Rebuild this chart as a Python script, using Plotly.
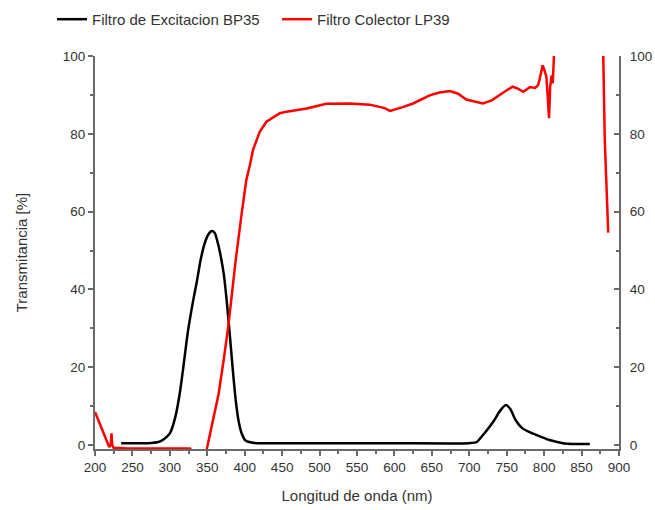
import plotly.graph_objects as go

# Excitation filter BP35 (black)
bp_nm = [235, 250, 270, 285, 292, 300, 307, 313, 318, 324, 331, 336, 341, 346, 351, 356, 360, 364, 368, 372, 376, 380, 384, 388, 392, 396, 401, 411, 430,
         500, 600, 700, 710, 720, 732, 741, 749, 755, 762, 771, 780, 795, 807, 825, 840, 861]
bp_val = [0.5, 0.5, 0.5, 0.8, 1.5, 3.0, 7.0, 13.0, 20.0, 29.0, 37.0, 42.0, 47.5, 51.5, 54.0, 55.0, 54.5, 52.0, 48.5, 44.0, 37.0, 28.5, 19.5, 11.5, 6.0, 3.0, 1.2, 0.6, 0.5,
          0.5, 0.5, 0.5, 0.8, 3.0, 6.0, 8.8, 10.3, 9.2, 6.4, 4.3, 3.4, 2.2, 1.3, 0.5, 0.3, 0.3]

# Collector filter LP39 (red)
lp_nm = [200, 205, 210, 215, 219, 221, 222, 223, 225, 240, 270, 300, 327, 332, 345, 349, 353, 358, 365, 372, 378, 383, 388, 396, 402, 407, 411, 420, 429, 447,
         456, 483, 509, 540, 567, 587, 594, 610, 625, 647, 660, 674, 685, 696, 718, 730, 740, 750, 758, 765, 772, 781, 788, 792, 795, 798, 801, 803, 805, 806.5, 808, 810, 811.5, 813,
         820, 860, 879, 881, 883, 885.6]
lp_val = [8.5, 6.0, 3.5, 1.5, -0.5, 0.0, 3.0, 0.0, -0.7, -0.8, -0.8, -0.8, -0.9, -3.0, -3.0, -1.3, 2.5, 7.0, 13.0, 22.0, 30.5, 39.0, 47.6, 59.6, 68.0, 72.0, 75.8, 80.5, 83.1, 85.3,
          85.7, 86.5, 87.7, 87.8, 87.5, 86.6, 85.9, 86.8, 87.8, 89.9, 90.6, 91.0, 90.3, 88.8, 87.8, 88.6, 90.0, 91.2, 92.1, 91.6, 90.8, 92.0, 91.8, 92.5, 95.0, 97.6, 96.0, 94.6, 89.0, 84.0, 92.0, 95.0, 93.0, 100.0,
          130.0, 130.0, 99.8, 78.4, 66.0, 54.6]

x_ticks = list(range(200, 901, 50))
y_ticks = [0, 20, 40, 60, 80, 100]

FONT = "Liberation Sans, Arial, sans-serif"
AX = "#6a6a6a"
TXT = "#333333"

fig = go.Figure()
fig.add_trace(go.Scatter(x=bp_nm, y=bp_val, mode="lines", name="Filtro de Excitacion BP35",
                         line=dict(color="black", width=2.5, shape="spline", smoothing=0.6)))
fig.add_trace(go.Scatter(x=lp_nm, y=lp_val, mode="lines", name="Filtro Colector LP39", yaxis="y2",
                         line=dict(color="#ff0000", width=2.5)))

fig.update_layout(
    width=655, height=510,
    margin=dict(l=95, r=36, t=56, b=61, autoexpand=False),
    plot_bgcolor="white", paper_bgcolor="white",
    font=dict(family=FONT, color=TXT, size=13),
    showlegend=True,
    legend=dict(orientation="h", x=-0.082, y=1.135, xanchor="left", yanchor="top",
                font=dict(size=15, color=TXT), itemwidth=30, entrywidth=180, entrywidthmode="pixels",
                bgcolor="rgba(0,0,0,0)"),
    xaxis=dict(range=[200, 900], tickvals=x_ticks, ticks="outside", ticklen=5, tickwidth=1.5, tickcolor=AX,
               showline=True, linecolor=AX, linewidth=2, showgrid=False, zeroline=False,
               minor=dict(dtick=25, tick0=200, ticks="outside", ticklen=3, tickcolor=AX, tickwidth=1.5),
               title=dict(text="Longitud de onda (nm)", font=dict(size=15, color=TXT), standoff=16),
               tickfont=dict(size=13.5, color=TXT)),
    yaxis=dict(range=[-1, 100], tickvals=y_ticks, ticks="outside", ticklen=5, tickwidth=1.5, tickcolor=AX,
               showline=True, linecolor=AX, linewidth=2, showgrid=False, zeroline=False,
               minor=dict(dtick=10, tick0=0, ticks="outside", ticklen=3, tickcolor=AX, tickwidth=1.5),
               title=dict(text="Transmitancia [%]", font=dict(size=15, color=TXT), standoff=32),
               tickfont=dict(size=13.5, color=TXT)),
    yaxis2=dict(range=[-1, 100], tickvals=y_ticks, overlaying="y", side="right", ticks="inside", ticklen=5,
                tickwidth=1.5, tickcolor=AX, showline=True, linecolor=AX, linewidth=2, showgrid=False, zeroline=False,
                minor=dict(dtick=10, tick0=0, ticks="inside", ticklen=3, tickcolor=AX, tickwidth=1.5),
                ticklabelstandoff=6, tickfont=dict(size=13.5, color=TXT)),
)

fig.write_html("out.html")
